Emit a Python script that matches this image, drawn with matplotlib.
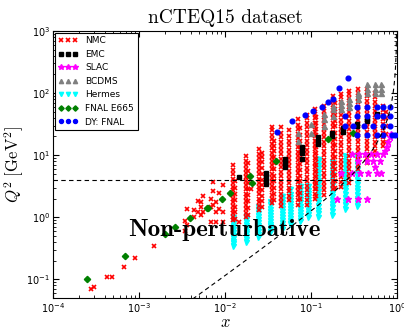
import numpy as np
import matplotlib
matplotlib.use("Agg")
import matplotlib.pyplot as plt

# DATOS

# NMC: columnas en x, cada una con sus valores de Q^2
nmc_x = [0.000277, 0.0003, 0.000425, 0.00049, 0.00067, 0.0009, 0.0015,
         0.0034, 0.0036, 0.0044, 0.0048, 0.0052, 0.0056, 0.0068, 0.0072,
         0.0078, 0.0085, 0.0095, 0.0125, 0.0132, 0.0145, 0.0175, 0.0185,
         0.020, 0.025, 0.027, 0.035, 0.037, 0.045, 0.055, 0.07, 0.075,
         0.09, 0.11, 0.115, 0.14, 0.18, 0.19, 0.225, 0.275, 0.35, 0.45,
         0.55, 0.68, 0.75]
nmc_q2 = [
    [0.069], [0.074], [0.11], [0.11], [0.16], [0.22], [0.35],
    [0.6, 0.86], [0.75, 1.35], [1.0, 1.3], [1.2, 1.8], [1.1, 1.45, 1.75],
    [1.2, 2.2], [0.83, 1.45, 2.0], [1.6, 2.6, 3.7],
    [0.83, 1.2, 1.75], [1.35, 2.5], [0.83, 1.2, 3.3],
    [0.9, 1.0, 1.15, 1.3, 1.5, 1.75, 2.0, 2.3, 2.7, 3.1, 3.6, 4.2, 4.9, 5.7, 7.0],
    [0.95, 1.2, 1.45, 1.9, 2.4, 3.0, 3.8],
    [0.83],
    [1.0, 1.15, 1.35, 1.55, 1.8, 2.1, 2.4, 2.8, 3.3, 3.8, 4.5, 5.2, 6.0, 7.0, 8.2, 9.6],
    [1.1, 1.4, 1.8, 2.3, 2.9, 3.6, 4.4, 5.5, 7.5],
    [2.8],
    [1.3, 1.5, 1.75, 2.0, 2.35, 2.7, 3.1, 3.6, 4.2, 4.9, 5.7, 6.6, 7.7, 9.0, 10.5, 12.5],
    [1.45, 1.8, 2.2, 2.7, 3.3, 4.0, 5.0, 6.2, 7.7, 9.5, 11],
    [1.7, 2.0, 2.3, 2.7, 3.2, 3.7, 4.3, 5.0, 5.9, 6.9, 8.1, 9.5, 11, 13, 15, 18, 21, 25, 28],
    [1.9, 2.4, 3.0, 3.8, 4.7, 5.9, 7.4, 9.2, 11.5, 14, 17],
    [1.5, 1.75, 2.05, 2.4, 2.8, 3.3, 3.9, 4.6, 5.4, 6.4, 7.5, 8.8, 10.3, 12, 14, 16.5, 19.5, 23, 28],
    [1.9, 2.2, 2.6, 3.0, 3.5, 4.1, 4.8, 5.6, 6.6, 7.7, 9.0, 10.5, 12.3, 14.4, 17, 20, 25],
    [1.6, 1.9, 2.25, 2.65, 3.1, 3.65, 4.3, 5.1, 6.0, 7.0, 8.3, 9.7, 11.4, 13.4, 15.8, 18.6, 22, 26, 31, 38],
    [2.0, 2.5, 3.1, 3.8, 4.7, 5.8, 7.2, 8.9, 11, 13.6, 16.8, 21, 27],
    [1.6, 1.9, 2.3, 2.7, 3.2, 3.8, 4.5, 5.3, 6.3, 7.4, 8.8, 10.4, 12.3, 14.5, 17, 20, 24, 28, 33, 39, 45],
    [2.0, 2.35, 2.8, 3.3, 3.9, 4.6, 5.4, 6.4, 7.5, 8.9, 10.5, 12.4, 14.6, 17.2, 20.3, 24, 28, 33, 39, 46, 55],
    [2.2, 2.8, 3.5, 4.4, 5.5, 6.9, 8.6, 10.8, 13.5, 17, 21, 26, 33, 41],
    [2.3, 2.7, 3.2, 3.75, 4.4, 5.2, 6.1, 7.2, 8.5, 10, 11.8, 13.9, 16.4, 19.3, 22.7, 26.8, 31.6, 37, 44, 52, 62],
    [2.8, 3.3, 3.9, 4.6, 5.4, 6.4, 7.5, 8.9, 10.5, 12.4, 14.6, 17.2, 20.3, 24, 28, 33, 39, 46, 54, 64, 75, 89],
    [3.0, 3.8, 4.8, 6.0, 7.5, 9.4, 11.8, 14.8, 18.5, 23, 29, 36, 45, 56, 70],
    [3.1, 3.7, 4.4, 5.2, 6.1, 7.2, 8.5, 10, 11.8, 13.9, 16.4, 19.3, 22.7, 26.8, 31.6, 37, 44, 52, 62, 73, 86, 95],
    [3.6, 4.25, 5.0, 5.9, 7.0, 8.2, 9.7, 11.5, 13.5, 16, 18.8, 22, 26, 31, 36, 43, 50, 59, 70, 83, 98, 110],
    [5.9, 7.0, 8.3, 9.8, 11.6, 13.7, 16.1, 19, 22.5, 26.5, 31.3, 37, 43.6, 51.5, 60.8, 71.7, 84.6, 100, 118],
    [7.5, 8.9, 10.5, 12.4, 14.6, 17.2, 20.3, 24, 28, 33, 39, 46, 54, 64, 75, 89, 105, 115],
    [10, 11.8, 13.9, 16.4, 19.3, 22.7, 26.8, 31.6, 37, 44, 52, 61, 72, 85, 100],
    [14, 16.5, 19.5, 23, 27, 32, 38, 45, 53, 62],
    [16, 22, 30, 40, 49],
]

# EMC
emc_x = [0.0147, 0.030, 0.030, 0.030, 0.030, 0.05, 0.05, 0.05, 0.05,
         0.079, 0.079, 0.079, 0.079, 0.12, 0.12, 0.12, 0.177, 0.177,
         0.236, 0.236, 0.343, 0.343, 0.45, 0.45, 0.58, 0.58]
emc_q2 = [4.5, 3.4, 4.0, 4.6, 5.1, 6.4, 7.2, 8.0, 8.6,
          8.6, 11, 12, 13.5, 15, 17, 19.5, 20, 22.5,
          24, 27, 29, 32, 35, 38, 42, 46]

# SLAC
slac_x = [0.2, 0.27, 0.35, 0.45, 0.22, 0.30, 0.37, 0.46, 0.58, 0.65, 0.56,
          0.35, 0.45, 0.53, 0.64, 0.30, 0.36, 0.42, 0.50, 0.58, 0.68,
          0.72, 0.76, 0.78, 0.82, 0.85]
slac_q2 = [2.0, 2.0, 2.0, 2.0, 5.1, 5.1, 5.1, 5.1, 5.1, 5.1, 6.4,
           8.0, 8.0, 8.0, 8.0, 10.4, 10.4, 10.4, 10.4, 10.4, 10.4,
           11.5, 13.5, 16, 19.5, 22]

# BCDMS
bcdms_x = [0.07, 0.07, 0.1, 0.1, 0.14, 0.14, 0.14, 0.18, 0.18, 0.18,
           0.225, 0.225, 0.225, 0.275, 0.275, 0.275, 0.35, 0.35, 0.35,
           0.45, 0.45, 0.45, 0.55, 0.55, 0.55, 0.65, 0.65, 0.65]
bcdms_q2 = [17, 23, 23, 32, 30, 38, 46, 42, 55, 62,
            55, 65, 74, 60, 70, 80, 80, 92, 100,
            100, 117, 140, 100, 117, 140, 100, 117, 140]

# HERMES: columnas en x
hermes_x = [0.0124, 0.0175, 0.0242, 0.0334, 0.0458, 0.0566, 0.0741,
            0.0924, 0.12, 0.177, 0.248, 0.343]
hermes_q2 = [
    [0.34, 0.38, 0.42, 0.47, 0.52, 0.58, 0.65, 0.72, 0.80, 0.90, 1.0],
    [0.40, 0.44, 0.49, 0.55, 0.61, 0.68, 0.76, 0.85, 0.95, 1.05],
    [0.48, 0.53, 0.59, 0.66, 0.74, 0.83, 0.93, 1.04, 1.16, 1.3, 1.45],
    [0.57, 0.64, 0.71, 0.79, 0.88, 0.98, 1.1, 1.23, 1.38, 1.55, 1.75],
    [0.64, 0.72, 0.8, 0.9, 1.0, 1.12, 1.25, 1.4, 1.57, 1.76, 1.97, 2.2],
    [0.77, 0.86, 0.96, 1.08, 1.21, 1.36, 1.52, 1.7, 1.9, 2.13, 2.4, 2.8],
    [0.86, 0.97, 1.09, 1.22, 1.37, 1.54, 1.73, 1.94, 2.18, 2.45, 2.8, 3.2],
    [1.0, 1.12, 1.25, 1.4, 1.57, 1.76, 1.97, 2.2, 2.47, 2.77, 3.2],
    [1.0, 1.15, 1.32, 1.52, 1.75, 2.0, 2.3, 2.65, 3.05, 3.5, 4.0, 4.6, 5.3, 6.1, 7.0, 8.0, 8.6],
    [1.1, 1.26, 1.45, 1.66, 1.9, 2.2, 2.5, 2.9, 3.3, 3.8, 4.4, 5.0, 5.8, 6.7, 7.7],
    [1.35, 1.55, 1.78, 2.05, 2.35, 2.7, 3.1, 3.55, 4.1, 4.7, 5.4, 6.2, 7.1, 8.2, 9.6],
    [1.5, 1.72, 1.98, 2.27, 2.6, 3.0, 3.45, 3.95, 4.55, 5.2, 6.0, 6.9, 7.9, 9.0, 9.6],
]

# FNAL E665
e665_x = [0.000248, 0.00069, 0.0020, 0.0026, 0.0039, 0.0061, 0.0064,
          0.0092, 0.0114, 0.0195, 0.0205, 0.039, 0.158, 0.307]
e665_q2 = [0.1, 0.235, 0.53, 0.69, 0.96, 1.4, 1.4,
           1.95, 2.5, 4.6, 3.5, 8.0, 18, 23]

# DY: FNAL
dy_x = [0.040, 0.060, 0.085, 0.105, 0.134, 0.157, 0.18, 0.21, 0.27,
        0.34, 0.45, 0.58, 0.69, 0.83,
        0.248, 0.34, 0.45, 0.58, 0.69, 0.83,
        0.248, 0.31, 0.41, 0.53, 0.68, 0.83,
        0.34, 0.45, 0.58, 0.69, 0.87, 0.95]
dy_q2 = [24, 35, 45, 51, 60, 71, 80, 122, 175,
         59, 59, 59, 59, 59,
         42, 42, 42, 42, 42, 42,
         30, 30, 30, 30, 30, 30,
         21, 21, 21, 21, 21, 21]

# CORTES: Q^2 > 4 GeV^2 y W^2 > 12.25 GeV^2
q2_cut = 4.0
w2_cut = 12.25
m_p2 = 0.88

# GRAFICA
fig = plt.figure(figsize=(4.04, 3.30), dpi=100)
ax = fig.add_axes([0.131, 0.097, 0.852, 0.809])

hx = [x for x, q in zip(hermes_x, hermes_q2) for _ in q]
hq = [v for q in hermes_q2 for v in q]
nx = [x for x, q in zip(nmc_x, nmc_q2) for _ in q]
nq = [v for q in nmc_q2 for v in q]

ax.plot(nx, nq, ls='none', marker='x', color='red', ms=3.1, mew=1.2,
        label='NMC', zorder=3)
ax.plot(emc_x, emc_q2, ls='none', marker='s', color='black', ms=3.4,
        label='EMC', zorder=4)
ax.plot(slac_x, slac_q2, ls='none', marker='*', color='magenta', ms=5,
        mec='magenta', label='SLAC', zorder=4)
ax.plot(bcdms_x, bcdms_q2, ls='none', marker='^', color='gray', ms=3.6,
        label='BCDMS', zorder=4)
ax.plot(hx, hq, ls='none', marker='v', color='cyan', ms=3.6,
        label='Hermes', zorder=2)
ax.plot(e665_x, e665_q2, ls='none', marker='D', color='green', ms=3.2,
        label='FNAL E665', zorder=4)
ax.plot(dy_x, dy_q2, ls='none', marker='o', color='blue', ms=3.4,
        label='DY: FNAL', zorder=4)

# lineas de corte
ax.axhline(q2_cut, color='black', ls='--', lw=0.8, dashes=(4, 3), zorder=5)
xl = np.logspace(-4, np.log10(0.999), 400)
ax.plot(xl, (w2_cut - m_p2) * xl / (1 - xl), color='black', lw=0.8,
        ls='--', dashes=(4, 3), zorder=5)

ax.text(0.0097, 0.62, 'Non-perturbative', family='cmb10', fontsize=18,
        ha='center', va='center', zorder=6)

ax.set_xscale('log')
ax.set_yscale('log')
ax.set_xlim(1e-4, 1)
ax.set_ylim(0.05, 1000)
ax.tick_params(which='both', direction='in', top=True, right=True,
               labelsize=7, pad=2)
ax.tick_params(which='major', length=4)
ax.tick_params(which='minor', length=2)

ax.set_title('nCTEQ15 dataset', family='cmr10', fontsize=14, pad=6)
ax.set_xlabel(r'$x$', fontsize=12, math_fontfamily='cm')
ax.xaxis.set_label_coords(0.5, -0.057)
ax.set_ylabel(r'$Q^2\ [\mathrm{GeV}^2]$', fontsize=12,
              math_fontfamily='cm', labelpad=0)

leg = ax.legend(loc='upper left', numpoints=3, fontsize=6.5,
                fancybox=False, framealpha=1, edgecolor='black',
                borderaxespad=0.2, handlelength=2.2, markerscale=0.85)
leg.get_frame().set_linewidth(0.8)

fig.savefig('out.png', dpi=100)
